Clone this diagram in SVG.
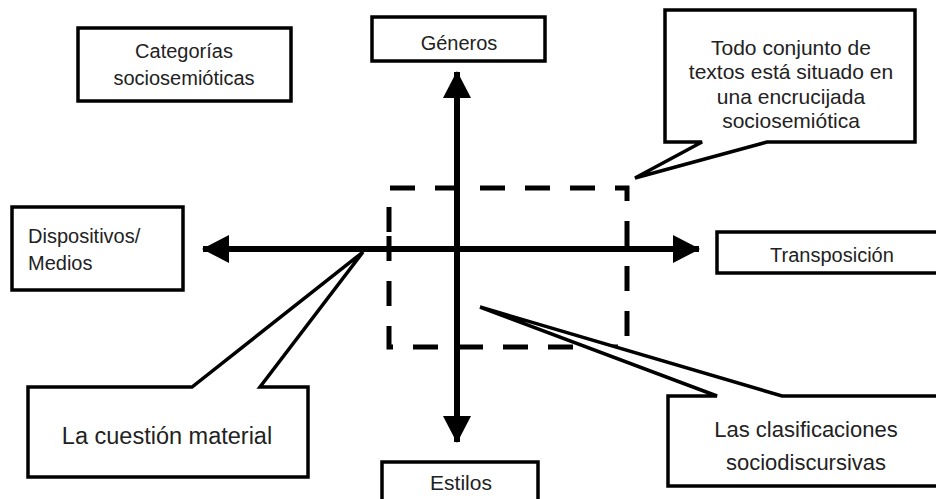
<svg xmlns="http://www.w3.org/2000/svg" width="936" height="499" viewBox="0 0 936 499">
<style>
.box{fill:#fff;stroke:#000;stroke-width:3.5}
.t{font-family:"Liberation Sans",Arial,sans-serif;font-size:20px;fill:#222;text-anchor:middle}
.axis{stroke:#000;stroke-width:6;fill:none}
.dash{stroke:#000;stroke-width:5;fill:none;stroke-dasharray:25 20}
</style>
<defs>
<marker id="ah" markerUnits="userSpaceOnUse" markerWidth="28" markerHeight="30" refX="26" refY="14" orient="auto">
<path d="M0,0 L27,14 L0,28 Z" fill="#000"/>
</marker>
</defs>
<rect width="936" height="499" fill="#fff"/>
<g id="connectors">
<path class="dash" d="M389,232 V188 H627 V347 H389 Z" stroke-dashoffset="0"/>
<line class="axis" x1="457" y1="260" x2="457" y2="72" marker-end="url(#ah)"/>
<line class="axis" x1="457" y1="240" x2="457" y2="442" marker-end="url(#ah)"/>
<line class="axis" x1="460" y1="249" x2="203" y2="249" marker-end="url(#ah)"/>
<line class="axis" x1="454" y1="249" x2="699" y2="249" marker-end="url(#ah)"/>
</g>
<g id="categorias">
<rect class="box" x="78" y="28" width="213" height="73"/>
<text class="t" x="184" y="58">Categorías</text>
<text class="t" x="184" y="85">sociosemióticas</text>
</g>
<g id="generos">
<rect class="box" x="372" y="17" width="173" height="44"/>
<text class="t" x="459" y="50">Géneros</text>
</g>
<g id="todo">
<path class="box" d="M665,10 H915 V142 H767 L635,178 L702,142 H665 Z" stroke-linejoin="miter"/>
<text class="t" x="791" y="55" style="font-size:21px">Todo conjunto de</text>
<text class="t" x="791" y="79" style="font-size:21px">textos está situado en</text>
<text class="t" x="791" y="104" style="font-size:21px">una encrucijada</text>
<text class="t" x="791" y="128" style="font-size:21px">sociosemiótica</text>
</g>
<g id="dispositivos">
<rect class="box" x="12" y="207" width="171" height="83"/>
<text class="t" x="28" y="243" style="text-anchor:start">Dispositivos/</text>
<text class="t" x="28" y="270" style="text-anchor:start">Medios</text>
</g>
<g id="transposicion">
<rect class="box" x="717" y="232" width="230" height="41"/>
<text class="t" x="832" y="262">Transposición</text>
</g>
<g id="cuestion">
<path class="box" d="M28,387 H192 L363,252 L260,387 H308 V477 H28 Z"/>
<text class="t" x="167" y="444" style="font-size:23.5px">La cuestión material</text>
</g>
<g id="clasificaciones">
<path class="box" d="M668,396 H717 L480,307 L782,396 H950 V486 H668 Z"/>
<text class="t" x="806" y="437" style="font-size:22px">Las clasificaciones</text>
<text class="t" x="806" y="470" style="font-size:22px">sociodiscursivas</text>
</g>
<g id="estilos">
<rect class="box" x="382" y="462" width="156" height="50"/>
<text class="t" x="461" y="490" style="font-size:21px">Estilos</text>
</g>
</svg>
